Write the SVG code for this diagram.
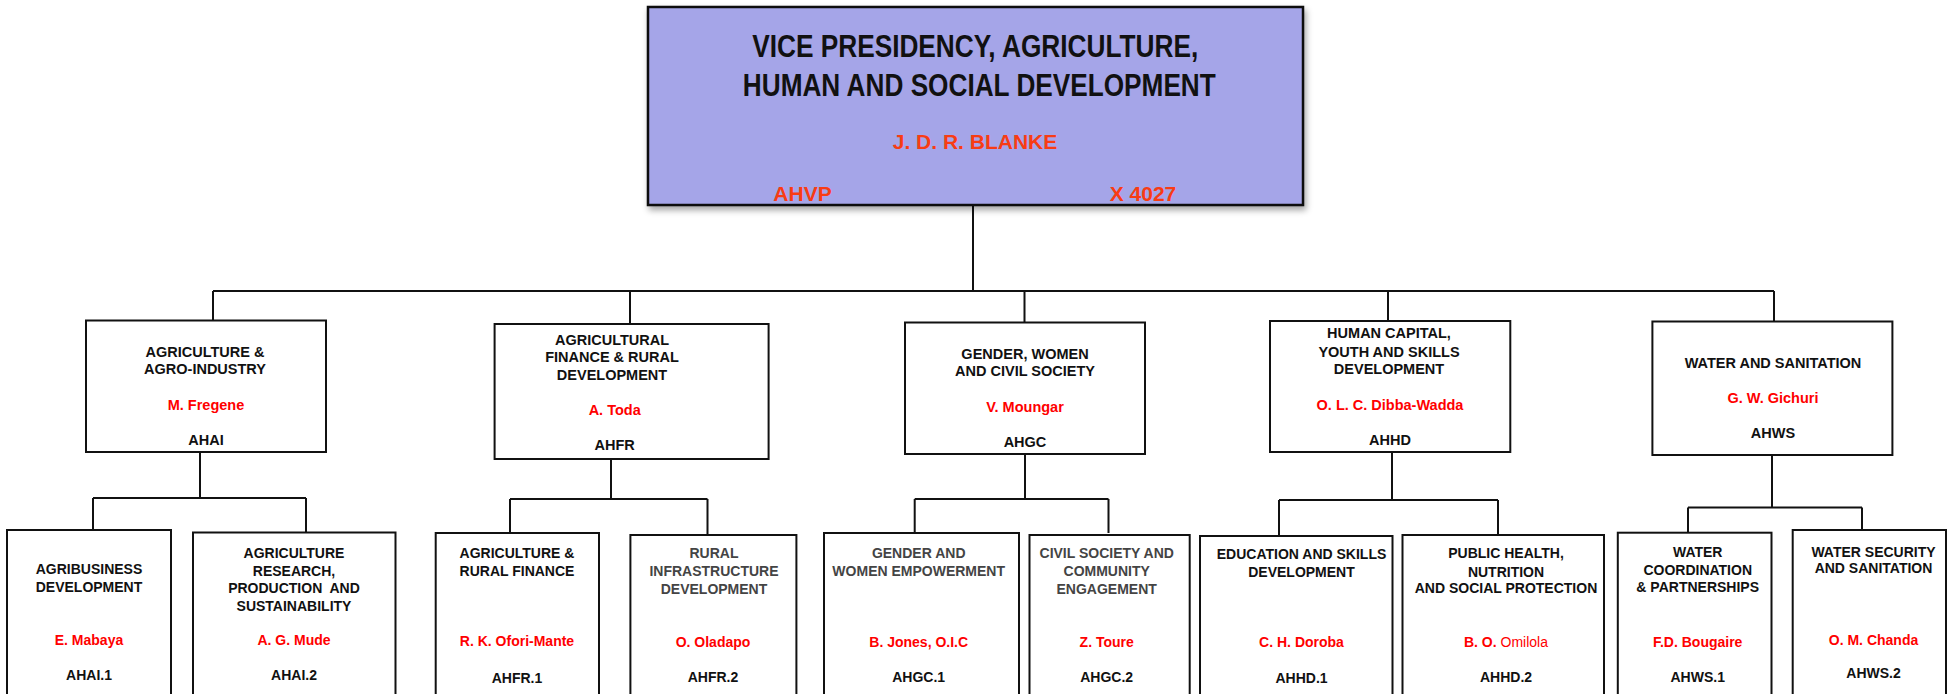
<svg xmlns="http://www.w3.org/2000/svg" width="1953" height="694" viewBox="0 0 1953 694">
<defs>
<filter id="sh" x="-5%" y="-10%" width="110%" height="125%">
<feDropShadow dx="2" dy="4" stdDeviation="3" flood-color="#000" flood-opacity="0.35"/>
</filter>
</defs>
<style>
text{font-family:"Liberation Sans",Arial,sans-serif;font-weight:bold;text-anchor:middle}
.box{fill:#fff;stroke:#111;stroke-width:2}
.top{fill:#a5a5e8;stroke:#111;stroke-width:2.5}
.t{font-size:14.5px;fill:#111}
.n{font-size:14.5px;fill:#ff0000}
.s{font-size:14px;fill:#111}
.g{font-size:14px;fill:#444}
.sn{font-size:14px;fill:#ff0000}
.title{font-size:31px;fill:#111}
.or{font-size:21px;fill:#f83c14}
.conn{fill:none;stroke:#111;stroke-width:2}
</style>
<g id="connectors">
<path class="conn" d="M973 205V291M213 291H1774M213 291V321M630 291V324M1024.5 291V323M1388 291V321M1774 291V322"/>
<path class="conn" d="M200 452V498M93 498H306M93 498V530M306 498V533"/>
<path class="conn" d="M611 459V499M510 499H707.5M510 499V533M707.5 499V535"/>
<path class="conn" d="M1025 454V499M914.7 499H1108.5M914.7 499V533M1108.5 499V533"/>
<path class="conn" d="M1392 452V500M1279 500H1498M1279 500V536M1498 500V535"/>
<path class="conn" d="M1772 455V507.5M1688 507.5H1862M1688 507.5V533M1862 507.5V530"/>
</g>
<g id="vp">
<rect class="top" x="648" y="7" width="655" height="198" filter="url(#sh)"/>
<text class="title" x="975.2" y="57" textLength="446" lengthAdjust="spacingAndGlyphs">VICE PRESIDENCY, AGRICULTURE,</text>
<text class="title" x="979.3" y="96" textLength="473" lengthAdjust="spacingAndGlyphs">HUMAN AND SOCIAL DEVELOPMENT</text>
<text class="or" x="975" y="149">J. D. R. BLANKE</text>
<text class="or" x="802.5" y="200.5">AHVP</text>
<text class="or" x="1143" y="201">X 4027</text>
</g>
<g id="ahai">
<rect class="box" x="86" y="320.5" width="240" height="131.5"/>
<text class="t" x="205" y="357.3">AGRICULTURE &amp;</text>
<text class="t" x="205" y="374">AGRO-INDUSTRY</text>
<text class="n" x="206" y="410">M. Fregene</text>
<text class="t" x="206" y="445">AHAI</text>
</g>
<g id="ahfr">
<rect class="box" x="494.6" y="324" width="274" height="135"/>
<text class="t" x="612" y="345">AGRICULTURAL</text>
<text class="t" x="612" y="362.3">FINANCE &amp; RURAL</text>
<text class="t" x="612" y="380">DEVELOPMENT</text>
<text class="n" x="614.7" y="415">A. Toda</text>
<text class="t" x="614.7" y="450">AHFR</text>
</g>
<g id="ahgc">
<rect class="box" x="905" y="322.5" width="240" height="131.5"/>
<text class="t" x="1025" y="359">GENDER, WOMEN</text>
<text class="t" x="1025" y="376.3">AND CIVIL SOCIETY</text>
<text class="n" x="1025" y="412.3">V. Moungar</text>
<text class="t" x="1025" y="446.7">AHGC</text>
</g>
<g id="ahhd">
<rect class="box" x="1270" y="321" width="240.3" height="131"/>
<text class="t" x="1389" y="338.3">HUMAN CAPITAL,</text>
<text class="t" x="1389" y="356.7">YOUTH AND SKILLS</text>
<text class="t" x="1389" y="374">DEVELOPMENT</text>
<text class="n" x="1390" y="410">O. L. C. Dibba-Wadda</text>
<text class="t" x="1390" y="445">AHHD</text>
</g>
<g id="ahws">
<rect class="box" x="1652.4" y="321.5" width="240" height="133.5"/>
<text class="t" x="1773" y="367.7">WATER AND SANITATION</text>
<text class="n" x="1773" y="402.7">G. W. Gichuri</text>
<text class="t" x="1773" y="437.7">AHWS</text>
</g>
<g id="ahai1">
<rect class="box" x="7" y="530" width="164" height="200"/>
<text class="s" x="89" y="574">AGRIBUSINESS</text>
<text class="s" x="89" y="591.7">DEVELOPMENT</text>
<text class="sn" x="89" y="645">E. Mabaya</text>
<text class="s" x="89" y="680">AHAI.1</text>
</g>
<g id="ahai2">
<rect class="box" x="193" y="532.5" width="202.5" height="200"/>
<text class="s" x="294" y="557.7">AGRICULTURE</text>
<text class="s" x="294" y="575.7">RESEARCH,</text>
<text class="s" x="294" y="593" xml:space="preserve">PRODUCTION  AND</text>
<text class="s" x="294" y="610.7">SUSTAINABILITY</text>
<text class="sn" x="294" y="645">A. G. Mude</text>
<text class="s" x="294" y="680">AHAI.2</text>
</g>
<g id="ahfr1">
<rect class="box" x="435.7" y="533" width="163.3" height="200"/>
<text class="s" x="517" y="557.7">AGRICULTURE &amp;</text>
<text class="s" x="517" y="575.7">RURAL FINANCE</text>
<text class="sn" x="517" y="646">R. K. Ofori-Mante</text>
<text class="s" x="517" y="682.7">AHFR.1</text>
</g>
<g id="ahfr2">
<rect class="box" x="630.4" y="535" width="166" height="200"/>
<text class="g" x="714" y="558">RURAL</text>
<text class="g" x="714" y="576">INFRASTRUCTURE</text>
<text class="g" x="714" y="593.7">DEVELOPMENT</text>
<text class="sn" x="713" y="647">O. Oladapo</text>
<text class="s" x="713" y="681.7">AHFR.2</text>
</g>
<g id="ahgc1">
<rect class="box" x="824" y="533" width="195" height="200"/>
<text class="g" x="918.7" y="558.3">GENDER AND</text>
<text class="g" x="918.7" y="575.7">WOMEN EMPOWERMENT</text>
<text class="sn" x="918.7" y="647">B. Jones, O.I.C</text>
<text class="s" x="918.7" y="681.7">AHGC.1</text>
</g>
<g id="ahgc2">
<rect class="box" x="1029.5" y="535" width="160.2" height="200"/>
<text class="g" x="1106.7" y="558">CIVIL SOCIETY AND</text>
<text class="g" x="1106.7" y="575.7">COMMUNITY</text>
<text class="g" x="1106.7" y="593.7">ENGAGEMENT</text>
<text class="sn" x="1106.7" y="647">Z. Toure</text>
<text class="s" x="1106.7" y="681.7">AHGC.2</text>
</g>
<g id="ahhd1">
<rect class="box" x="1200" y="536" width="192.5" height="200"/>
<text class="s" x="1301.5" y="559.3">EDUCATION AND SKILLS</text>
<text class="s" x="1301.5" y="577.3">DEVELOPMENT</text>
<text class="sn" x="1301.5" y="647.3">C. H. Doroba</text>
<text class="s" x="1301.5" y="682.7">AHHD.1</text>
</g>
<g id="ahhd2">
<rect class="box" x="1402.5" y="535" width="201.5" height="200"/>
<text class="s" x="1506" y="558.3">PUBLIC HEALTH,</text>
<text class="s" x="1506" y="576.7">NUTRITION</text>
<text class="s" x="1506" y="593.3">AND SOCIAL PROTECTION</text>
<text class="sn" x="1506" y="646.7">B. O. <tspan font-weight="normal">Omilola</tspan></text>
<text class="s" x="1506" y="681.7">AHHD.2</text>
</g>
<g id="ahws1">
<rect class="box" x="1617.8" y="532.7" width="153.7" height="200"/>
<text class="s" x="1697.7" y="556.7">WATER</text>
<text class="s" x="1697.7" y="575">COORDINATION</text>
<text class="s" x="1697.7" y="591.7">&amp; PARTNERSHIPS</text>
<text class="sn" x="1697.7" y="646.7">F.D. Bougaire</text>
<text class="s" x="1697.7" y="681.7">AHWS.1</text>
</g>
<g id="ahws2">
<rect class="box" x="1792.7" y="530" width="153.3" height="200"/>
<text class="s" x="1873.5" y="556.7">WATER SECURITY</text>
<text class="s" x="1873.5" y="573.3">AND SANITATION</text>
<text class="sn" x="1873.5" y="645">O. M. Chanda</text>
<text class="s" x="1873.5" y="678.3">AHWS.2</text>
</g>
</svg>
